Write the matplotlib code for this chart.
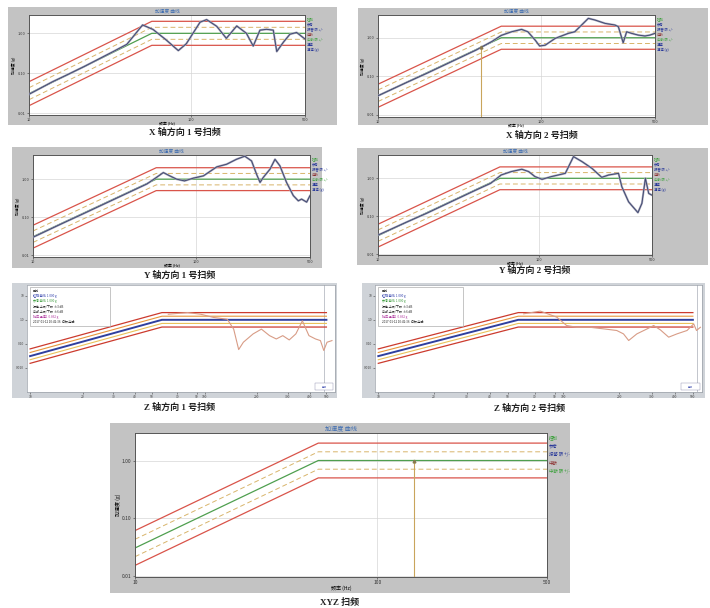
import numpy as np
import matplotlib
matplotlib.use('Agg')
import matplotlib.pyplot as plt
from matplotlib.patches import Rectangle
from matplotlib.ticker import NullLocator, FixedLocator, FixedFormatter

plt.rcParams['font.family'] = ['Noto Sans CJK SC', 'DejaVu Sans']

# ---------------- data ----------------
# reference acceleration profile (Hz, g) and tolerance bands (dB)
prof_freq = [10, 57, 500]
prof_acc = [0.031, 1.0, 1.0]
limit_db = [6, 3, 0, -3, -6]

# X axis sweep 1
x1_freq = [10, 14, 17, 22, 27, 33, 40, 44, 50, 58, 70, 83, 93, 113, 124, 143, 164, 190,
           218, 240, 264, 290, 319, 335, 368, 404, 444, 500]
x1_acc = [0.030, 0.062, 0.090, 0.150, 0.23, 0.35, 0.53, 0.85, 1.62, 1.25, 0.68, 0.37, 0.55,
          1.9, 2.2, 1.5, 0.75, 1.53, 1.0, 0.48, 1.2, 1.26, 1.2, 0.35, 0.6, 0.95, 1.05, 0.72]
# X axis sweep 2
x2_freq = [10, 15, 20, 30, 40, 50, 57, 66, 76, 83, 92, 98, 106, 122, 147, 161, 195, 214,
           247, 284, 298, 319, 335, 359, 395, 434, 465, 500]
x2_acc = [0.031, 0.069, 0.12, 0.27, 0.48, 0.80, 1.15, 1.43, 1.65, 1.43, 0.87, 0.61, 0.64,
          0.96, 1.30, 1.43, 3.19, 2.89, 2.36, 2.14, 1.94, 0.74, 1.43, 1.30, 1.17, 1.11, 1.17, 1.30]
x2_marker_freq = 43
x2_marker_acc = 0.57
# Y axis sweep 1
y1_freq = [10, 15, 20, 30, 40, 50, 57, 63, 69, 76, 85, 96, 111, 134, 154, 177, 199, 219,
           235, 247, 258, 284, 305, 327, 359, 395, 424, 444, 477, 500]
y1_acc = [0.030, 0.068, 0.12, 0.27, 0.48, 0.75, 1.10, 1.49, 1.22, 1.0, 0.90, 1.06, 1.22,
          2.10, 2.46, 3.32, 4.0, 3.01, 1.35, 0.82, 1.10, 1.82, 3.32, 2.23, 0.82, 0.37, 0.27,
          0.30, 0.25, 0.37]
# Y axis sweep 2
y2_freq = [10, 15, 20, 30, 40, 50, 58, 67, 78, 86, 94, 104, 119, 145, 163, 184, 212, 244,
           269, 310, 325, 358, 409, 433, 455, 477, 500]
y2_acc = [0.032, 0.070, 0.12, 0.27, 0.48, 0.74, 1.22, 1.50, 1.73, 1.50, 1.11, 0.94, 1.11,
          1.35, 3.72, 2.75, 1.83, 1.06, 1.22, 1.35, 0.60, 0.24, 0.125, 0.22, 1.0, 0.40, 0.36]
# Z axis sweep 1 (response)
z1_freq = [62, 80, 95, 113, 135, 147, 157, 167, 190, 212, 236, 258, 281, 306, 334, 364,
           397, 433, 462, 483, 504, 538]
z1_acc = [1.71, 2.0, 1.71, 1.25, 1.06, 0.41, 0.058, 0.117, 0.26, 0.41, 0.22, 0.16, 0.22,
          0.146, 0.26, 0.91, 0.22, 0.16, 0.137, 0.053, 0.117, 0.137]
z1_cursor = 482
# Z axis sweep 2 (response)
z2_freq = [61, 75, 92, 104, 118, 139, 165, 194, 211, 225, 249, 283, 307, 334, 370, 410,
           465, 505, 523, 549]
z2_acc = [1.78, 2.3, 1.29, 0.58, 0.49, 0.49, 0.42, 0.36, 0.26, 0.138, 0.26, 0.42, 0.58,
          0.38, 0.19, 0.26, 0.36, 0.68, 0.36, 0.49]
z2_cursor = 527
# XYZ sweep marker
xyz_marker_freq = 141
xyz_marker_acc = 1.0

sweep_xticks = [10, 100, 500]
sweep_xlabels = ['10', '100', '500']
sweep_yticks = [0.01, 0.1, 1.0]
sweep_ylabels = ['0.01', '0.10', '1.00']
z_xticks = [10, 20, 30, 40, 50, 70, 90, 100, 200, 300, 400, 500]
z_xlabels = ['10', '20', '30', '40', '50', '70', '90', '100', '200', '300', '400', '500']
z_yticks = [0.01, 0.1, 1.0, 10]
z_ylabels = ['0.010', '0.10', '1.0', '10']

legend_labels = ['控制', '参考', '报警 限 +/-', '中断', '中断 限 +/-', '通道', '通道 (g)']
legend_colors = ['#3aa03a', '#2a3a9a', '#2a3a9a', '#8a2a2a', '#3aa03a', '#2a3a9a', '#2a3a9a']
z_info = ['图例', '控制 曲线  1.000 g', '参考 曲线  1.000 g', '报警 上限/下限  ±3 dB',
          '中断 上限/下限  ±6 dB', '响应 通道1  0.862 g', '2017-01-12 10:42:36  扫频 完成']
z_info_colors = ['#333333', '#2a3aa8', '#3a9a3a', '#222222', '#222222', '#b03aa0', '#222222']

# ---------------- figure ----------------
W, H = 710, 608
fig = plt.figure(figsize=(W / 100, H / 100), dpi=100)
fig.patch.set_facecolor('white')


def rect(x0, y0, x1, y1):
    return [x0 / W, 1 - y1 / H, (x1 - x0) / W, (y1 - y0) / H]


def frame(x0, y0, x1, y1, color):
    fig.patches.append(Rectangle((x0 / W, 1 - y1 / H), (x1 - x0) / W, (y1 - y0) / H,
                                 transform=fig.transFigure, facecolor=color,
                                 edgecolor='none', zorder=-5))


def caption(cx, cy, text):
    fig.text(cx / W, 1 - cy / H, text, ha='center', va='center', fontsize=6.5,
             fontweight='bold', color='#222222',
             family=['Liberation Serif', 'Noto Sans CJK SC'])


def profile(ax, styles):
    pa = np.array(prof_acc)
    for db, (col, ls, lw) in zip(limit_db, styles):
        ax.plot(prof_freq, pa * 10 ** (db / 20), color=col, ls=ls, lw=lw, zorder=2)


sweep_styles = [('#d9544a', '-', 0.9), ('#d8b46a', (0, (5, 3)), 0.7), ('#4f9f4f', '-', 0.9),
                ('#d8b46a', (0, (5, 3)), 0.7), ('#d9544a', '-', 0.9)]
z_styles = [('#cc3b2e', '-', 0.9), ('#e8963c', '-', 0.8), ('#2f3f9e', '-', 1.4),
            ('#e9c25a', '-', 0.8), ('#cc3b2e', '-', 0.9)]


def sweep_panel(frm, axr, ylim, freq=None, acc=None, cap='', cap_xy=(0, 0), big=False,
                marker=None, nleg=7):
    frame(*frm, '#c3c3c3')
    ax = fig.add_axes(rect(*axr))
    ax.set_facecolor('white')
    ax.set_xscale('log')
    ax.set_yscale('log')
    ax.set_xlim(10, 500)
    ax.set_ylim(*ylim)
    ax.xaxis.set_major_locator(FixedLocator(sweep_xticks))
    ax.xaxis.set_major_formatter(FixedFormatter(sweep_xlabels))
    ax.yaxis.set_major_locator(FixedLocator(sweep_yticks))
    ax.yaxis.set_major_formatter(FixedFormatter(sweep_ylabels))
    ax.xaxis.set_minor_locator(NullLocator())
    ax.yaxis.set_minor_locator(NullLocator())
    fs = 3.6 if big else 2.8
    ax.tick_params(labelsize=fs, length=1.5, width=0.4, pad=1, colors='#333333')
    ax.grid(True, color='#d6d6d6', lw=0.5)
    for s in ax.spines.values():
        s.set_color('#555555')
        s.set_linewidth(0.7)
    profile(ax, sweep_styles)
    if freq is not None:
        ax.plot(freq, acc, color='#a8a6b8', lw=1.5, zorder=3)
        ax.plot(freq, acc, color='#3c4670', lw=0.65, zorder=4)
    if marker is not None:
        ax.vlines(marker[0], ylim[0], marker[1], color='#c9a55c', lw=0.8, zorder=3)
        ax.plot(marker[0], marker[1], marker='^', ms=2, color='#8a7a50', zorder=5)
    ax.set_xlabel('频率 (Hz)', fontsize=fs, labelpad=0)
    ax.set_ylabel('加速度 (g)', fontsize=fs, labelpad=1)
    cx = (axr[0] + axr[2]) / 2
    ty = (frm[1] + axr[1]) / 2
    fig.text(cx / W, 1 - ty / H, '加速度 曲线', ha='center', va='center',
             fontsize=4.4 if big else 3.4, color='#3a6ab0')
    step = 8.5 if big else 5.2
    for i in range(nleg):
        fig.text((axr[2] + 2) / W, 1 - (axr[1] + 2 + i * step) / H, legend_labels[i],
                 fontsize=3.2 if big else 2.4, color=legend_colors[i], va='top', ha='left')
    caption(cap_xy[0], cap_xy[1], cap)
    return ax


def z_panel(frm, axr, freq, acc, cursor, cap, cap_xy):
    frame(*frm, '#cfd3d8')
    ax = fig.add_axes(rect(*axr))
    ax.set_facecolor('white')
    ax.set_xscale('log')
    ax.set_yscale('log')
    ax.set_xlim(9.6, 560)
    ax.set_ylim(0.001, 28)
    ax.xaxis.set_major_locator(FixedLocator(z_xticks))
    ax.xaxis.set_major_formatter(FixedFormatter(z_xlabels))
    ax.yaxis.set_major_locator(FixedLocator(z_yticks))
    ax.yaxis.set_major_formatter(FixedFormatter(z_ylabels))
    ax.xaxis.set_minor_locator(NullLocator())
    ax.yaxis.set_minor_locator(NullLocator())
    ax.tick_params(labelsize=2.4, length=1.2, width=0.4, pad=1, colors='#444444')
    for s in ax.spines.values():
        s.set_color('#9aa0a8')
        s.set_linewidth(0.5)
    profile(ax, z_styles)
    ax.plot(freq, acc, color='#d89c86', lw=0.8, zorder=4)
    ax.axvline(cursor, color='#b8bcc4', lw=0.6, zorder=1)
    # info box
    ax.add_patch(Rectangle((0.01, 0.62), 0.26, 0.36, transform=ax.transAxes,
                           facecolor='white', edgecolor='#9a9a9a', lw=0.4, zorder=6))
    for i, (t, c) in enumerate(zip(z_info, z_info_colors)):
        ax.text(0.02, 0.965 - i * 0.048, t, transform=ax.transAxes, fontsize=2.2,
                color=c, va='top', ha='left', zorder=7)
    ax.add_patch(Rectangle((0.935, 0.02), 0.06, 0.06, transform=ax.transAxes,
                           facecolor='white', edgecolor='#8888aa', lw=0.3, zorder=6))
    ax.text(0.965, 0.05, '曲线', transform=ax.transAxes, fontsize=1.8, color='#2a3aa8',
            ha='center', va='center', zorder=7)
    caption(cap_xy[0], cap_xy[1], cap)
    return ax


sweep_panel((8, 7, 337, 125), (29, 15, 305, 115), (0.0091, 2.87), x1_freq, x1_acc,
            'X 轴方向 1 号扫频', (185, 132))
sweep_panel((358, 8, 708, 125), (378, 15, 655, 117), (0.0087, 3.9), x2_freq, x2_acc,
            'X 轴方向 2 号扫频', (542, 135), marker=(x2_marker_freq, x2_marker_acc))
sweep_panel((12, 147, 322, 268), (33, 155, 310, 257), (0.0091, 4.3), y1_freq, y1_acc,
            'Y 轴方向 1 号扫频', (180, 275))
sweep_panel((357, 148, 708, 265), (378, 155, 652, 255), (0.0096, 4.1), y2_freq, y2_acc,
            'Y 轴方向 2 号扫频', (535, 270))
z_panel((12, 283, 337, 398), (27, 285, 335, 392), z1_freq, z1_acc, z1_cursor,
        'Z 轴方向 1 号扫频', (180, 407))
z_panel((362, 283, 705, 398), (375, 285, 702, 392), z2_freq, z2_acc, z2_cursor,
        'Z 轴方向 2 号扫频', (530, 408))
sweep_panel((110, 423, 570, 593), (135, 433, 547, 577), (0.0098, 2.98), None, None,
            'XYZ 扫频', (340, 602), big=True, marker=(xyz_marker_freq, xyz_marker_acc), nleg=5)

fig.savefig('out.png', dpi=100, facecolor='white')
